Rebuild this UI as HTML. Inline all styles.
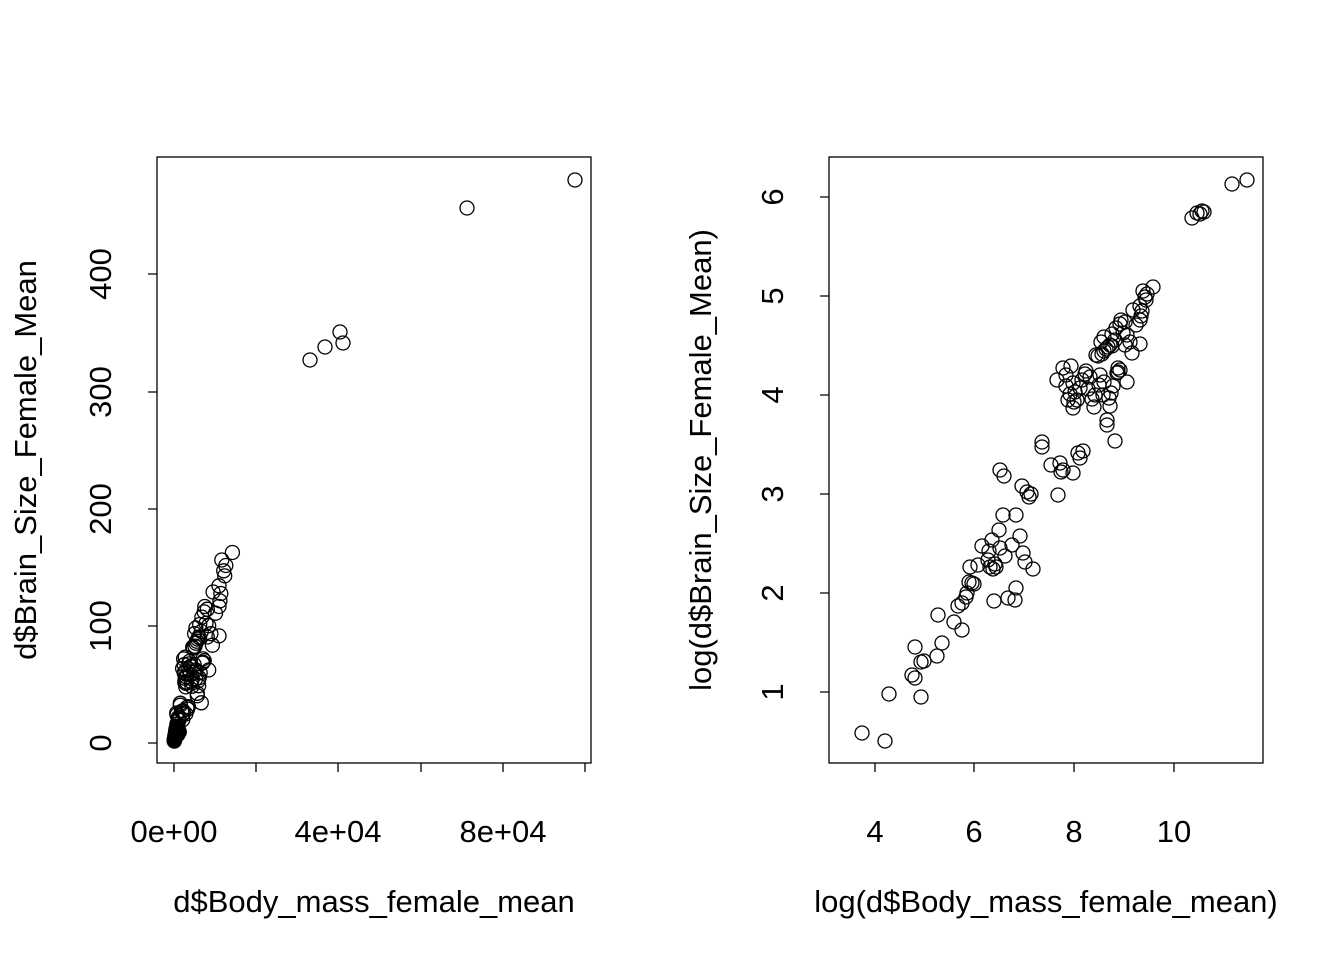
<!DOCTYPE html>
<html><head><meta charset="utf-8"><style>body{margin:0;background:#fff}svg{display:block}text{font-family:"Liberation Sans",sans-serif;font-size:31px;fill:#000}</style></head>
<body>
<svg id="s" width="1344" height="960" xmlns="http://www.w3.org/2000/svg">
<g fill="none" stroke="#000" stroke-width="1.3">
<rect x="157" y="157" width="434" height="606"/>
<rect x="829" y="157" width="434" height="606"/>
<path d="M174,763v9M256,763v9M338,763v9M421,763v9M503,763v9M585,763v9"/>
<path d="M157,743h-9M157,626h-9M157,509h-9M157,392h-9M157,274h-9"/>
<path d="M875,763v9M974,763v9M1074,763v9M1174,763v9"/>
<path d="M829,692h-9M829,593h-9M829,494h-9M829,395h-9M829,296h-9M829,197h-9"/>
</g>
<g text-anchor="middle">
<text x="174" y="842">0e+00</text><text x="338" y="842">4e+04</text><text x="503" y="842">8e+04</text>
<text x="374" y="912">d$Body_mass_female_mean</text>
<text transform="translate(111,743) rotate(-90)">0</text>
<text transform="translate(111,626) rotate(-90)">100</text>
<text transform="translate(111,509) rotate(-90)">200</text>
<text transform="translate(111,392) rotate(-90)">300</text>
<text transform="translate(111,274) rotate(-90)">400</text>
<text transform="translate(36,460) rotate(-90)">d$Brain_Size_Female_Mean</text>
<text x="875" y="842">4</text><text x="974" y="842">6</text><text x="1074" y="842">8</text><text x="1174" y="842">10</text>
<text x="1046" y="912">log(d$Body_mass_female_mean)</text>
<text transform="translate(783,692) rotate(-90)">1</text>
<text transform="translate(783,593) rotate(-90)">2</text>
<text transform="translate(783,494) rotate(-90)">3</text>
<text transform="translate(783,395) rotate(-90)">4</text>
<text transform="translate(783,296) rotate(-90)">5</text>
<text transform="translate(783,197) rotate(-90)">6</text>
<text transform="translate(711,460) rotate(-90)">log(d$Brain_Size_Female_Mean)</text>
</g>
<g id="pts" fill="none" stroke="#000" stroke-width="1.3"></g>
</svg>
<script>
var P=[862,733,885,741,889,694,915,647,912,675,915,678,921,662,924,661,921,697,937,656,942,643,938,615,954,622,958,606,962,630,962,603,966,597,967,593,969,582,972,583,974,584,970,567,978,565,982,546,988,560,989,551,990,567,993,569,995,564,996,567,992,540,994,601,999,530,1000,548,1003,515,1005,556,1008,598,1012,545,1015,600,1016,515,1016,588,1020,536,1023,553,1025,562,1033,569,1022,486,1027,492,1029,497,1031,494,1000,470,1004,476,1042,442,1042,447,1051,465,1058,495,1060,463,1063,470,1061,472,1073,473,1078,453,1083,451,1080,458,1057,380,1063,368,1066,375,1066,386,1068,400,1070,394,1073,383,1071,366,1073,408,1074,402,1075,392,1077,400,1080,388,1082,380,1085,374,1088,389,1086,371,1090,377,1092,399,1094,407,1095,395,1099,385,1100,375,1103,395,1104,382,1096,355,1098,356,1102,354,1104,351,1106,349,1107,420,1107,425,1109,398,1110,406,1111,393,1113,386,1115,441,1112,334,1104,337,1101,342,1108,347,1110,345,1112,346,1115,340,1116,328,1117,373,1118,368,1118,372,1120,370,1120,324,1121,320,1123,333,1125,345,1127,335,1125,322,1127,382,1130,342,1132,353,1133,310,1136,325,1140,344,1140,320,1142,311,1140,306,1141,316,1143,291,1145,297,1146,300,1147,294,1153,287,1192,218,1197,213,1200,214,1202,211,1204,212,1232,184,1247,180];
var g=document.getElementById('pts'),h='';
function c(x,y){h+='<circle cx="'+x.toFixed(1)+'" cy="'+y.toFixed(1)+'" r="7"/>';}
for(var i=0;i<P.length;i+=2){var px=P[i],py=P[i+1];c(px,py);
var lx=4+(px-875)/50,ly=1+(692-py)/99;
if(lx<10){c(174+Math.exp(lx)*82.3/2e4,743-Math.exp(ly)*1.172);}}
[[310,360],[325,347],[340,332],[343,343],[467,208],[575,180]].forEach(function(p){c(p[0],p[1]);});
g.innerHTML=h;
</script>
</body></html>
